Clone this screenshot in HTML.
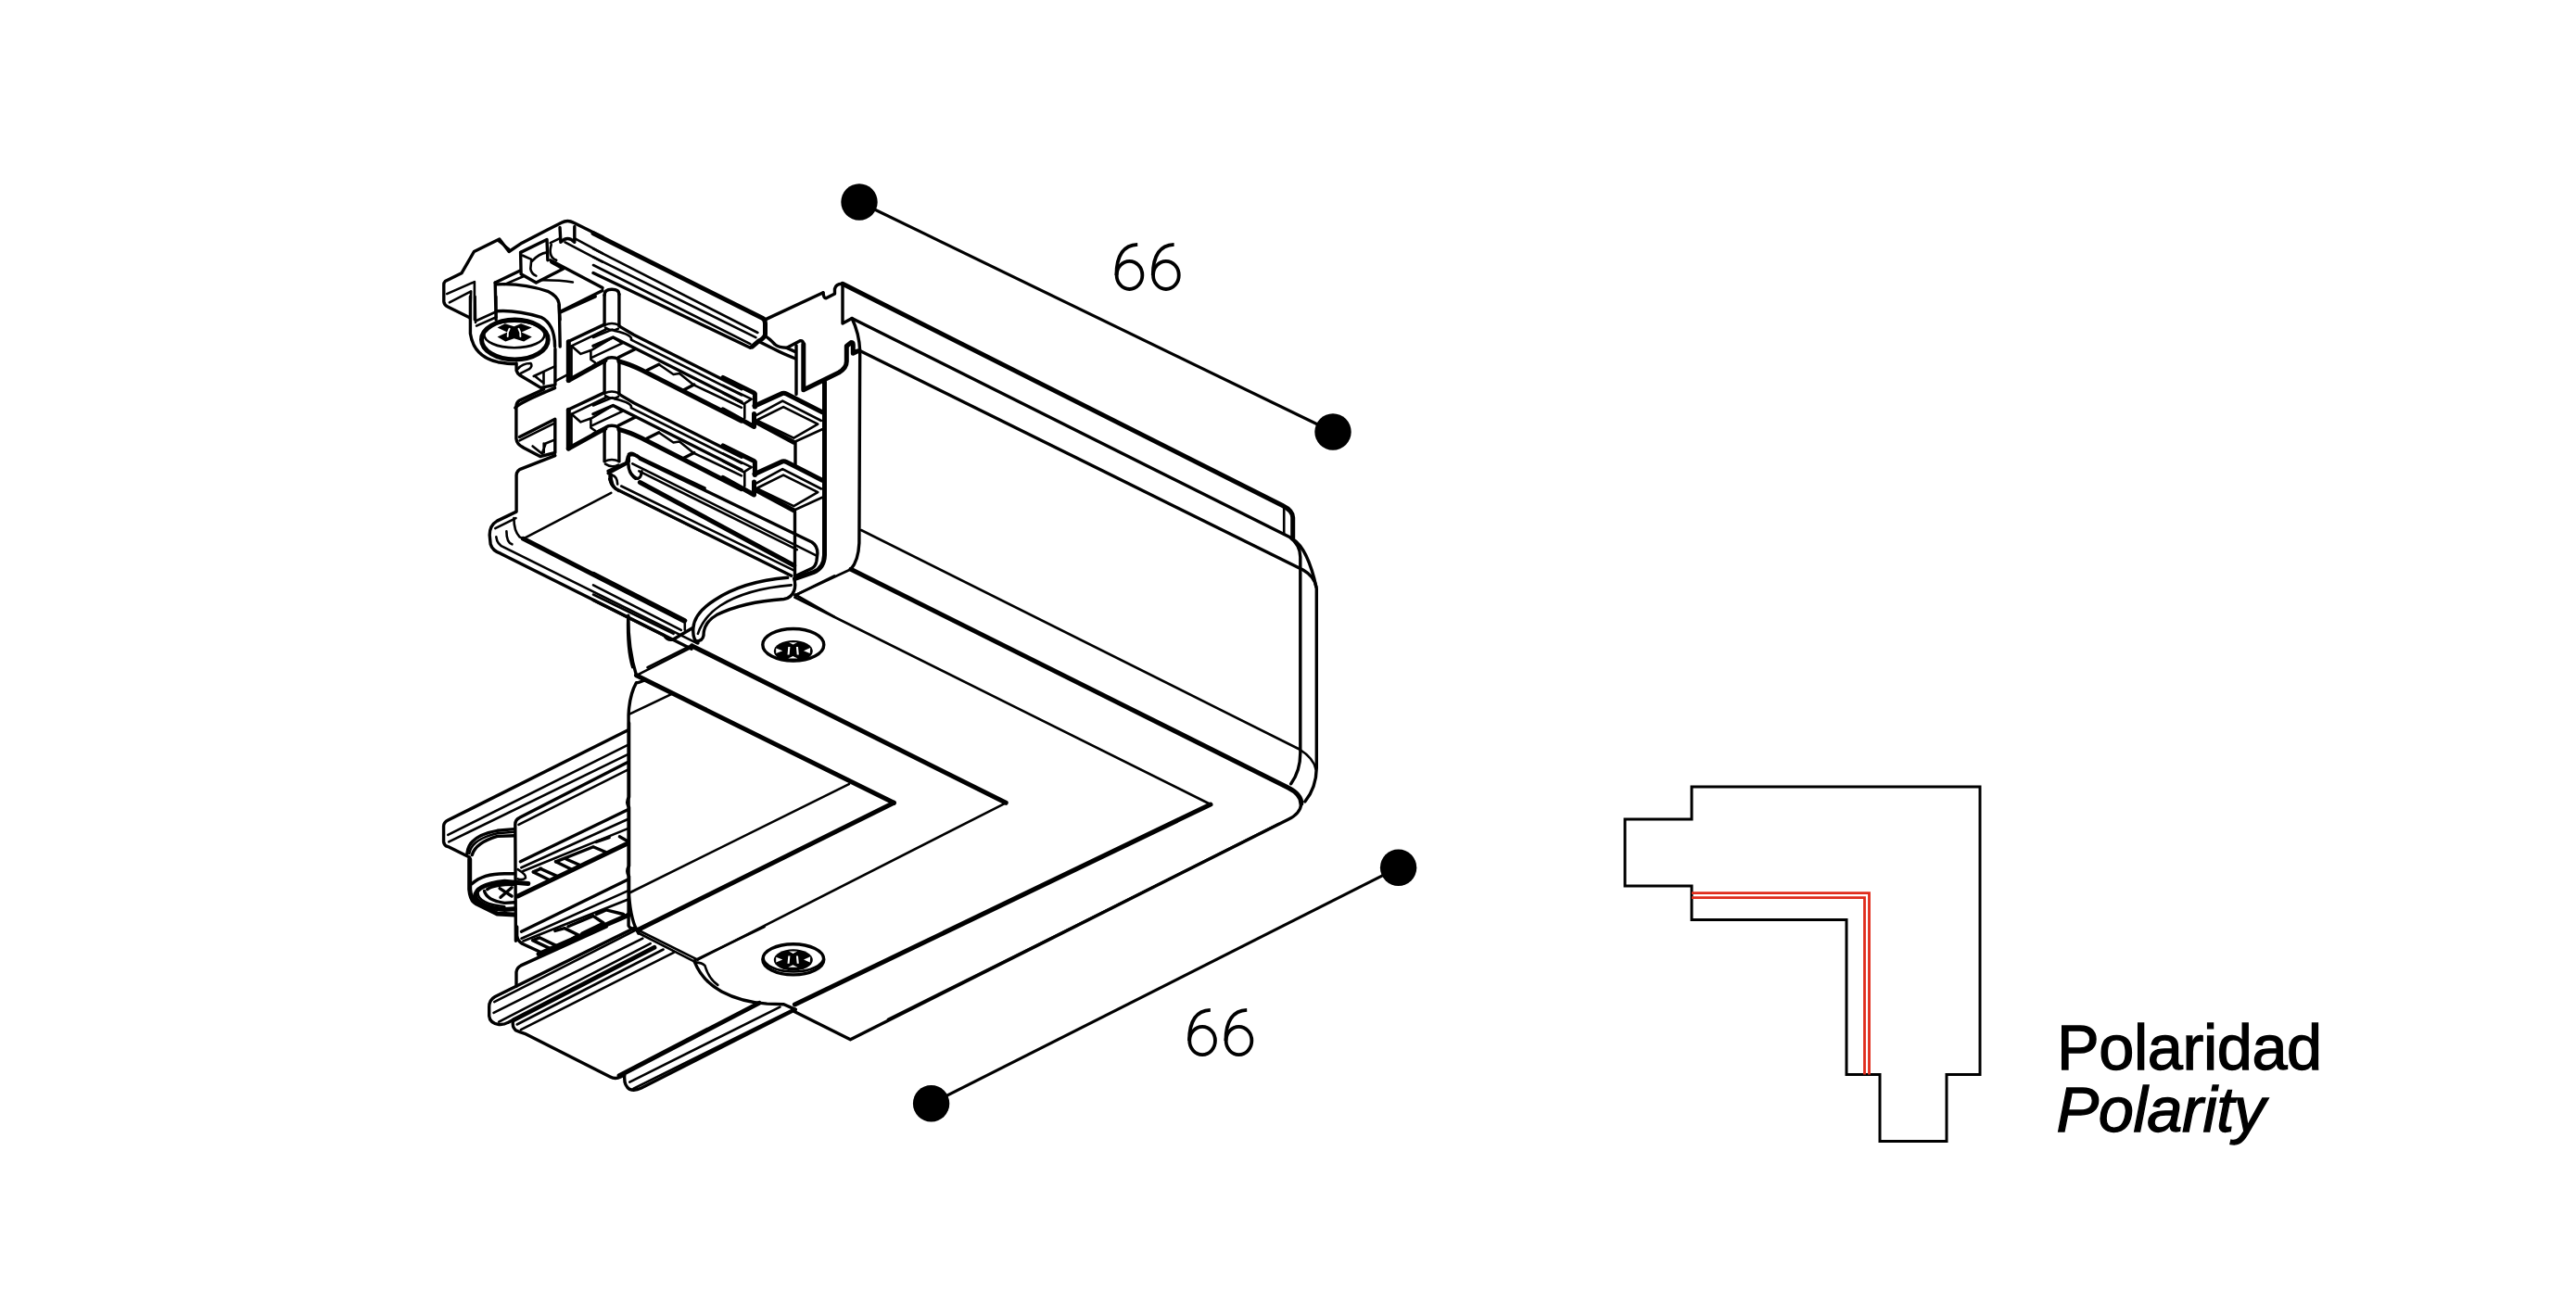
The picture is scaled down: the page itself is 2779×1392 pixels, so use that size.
<!DOCTYPE html>
<html><head><meta charset="utf-8"><style>
html,body{margin:0;padding:0;background:#fff;width:2779px;height:1392px;overflow:hidden}
svg{display:block}
</style></head><body>
<svg width="2779" height="1392" viewBox="0 0 2779 1392">
<defs>
<g id="six"><path d="M24.7 1.9 C10 2.5 1.9 13 1.9 35" fill="none" stroke="#000" stroke-width="3.8"/><ellipse cx="16.0" cy="35.0" rx="13.85" ry="15.1" fill="none" stroke="#000" stroke-width="3.8"/></g>
</defs>
<g id="dims" fill="#000" stroke="none">
<circle cx="927" cy="218" r="19.7"/>
<circle cx="1438" cy="466" r="19.7"/>
<circle cx="1508.6" cy="936.2" r="19.7"/>
<circle cx="1004.6" cy="1190.7" r="19.7"/>
<line x1="927" y1="218" x2="1438" y2="466" stroke="#000" stroke-width="3.1"/>
<line x1="1004.6" y1="1190.7" x2="1508.6" y2="936.2" stroke="#000" stroke-width="3.1"/>
</g>
<use href="#six" x="1202.5" y="261.9"/>
<use href="#six" x="1241.9" y="261.9"/>
<use href="#six" x="1281.1" y="1088"/>
<use href="#six" x="1320.5" y="1088"/>
<g id="polarity" fill="none" stroke="#000" stroke-width="3" stroke-linejoin="miter">
<path d="M1825 849 H2136 V1159.5 H2100 V1231.5 H2028 V1159.5 H1992 V992.6 H1825 V956 H1753 V884 H1825 Z"/>
<path d="M1825 963.7 H2016.5 V1159.5" stroke="#e02c1c" stroke-width="2.8"/>
<path d="M1825 968.6 H2011.5 V1159.5" stroke="#e02c1c" stroke-width="2.8"/>
</g>
<g id="ptext" font-family="Liberation Sans, sans-serif" font-size="68.5" fill="#000" stroke="#000" stroke-width="1.3" letter-spacing="-0.4">
<text x="2219" y="1154">Polaridad</text>
<text x="2218.5" y="1221" font-style="italic">Polarity</text>
</g>
<g id="body" fill="none" stroke="#000" stroke-linejoin="round" stroke-linecap="round">
<path d="M 909.0 306.3 L 1383.6 545.5 Q 1394.7 551.0 1394.7 558.6 L 1394.7 580.8" stroke-width="5.0"/>
<path d="M 1385.2 548.5 L 1385.2 576.8" stroke-width="2.6"/>
<path d="M 919.1 343.5 L 1391.7 579.8 Q 1402.8 588.0 1402.8 601.0 L 1402.8 812.6 Q 1402.8 832.0 1392.7 845.8" stroke-width="3.4"/>
<path d="M 1394.7 581.8 Q 1411.0 592.0 1420.3 635.0 L 1420.3 828.7 Q 1420.0 850.0 1407.8 865.0" stroke-width="3.4"/>
<path d="M 927.7 378.4 L 1405.8 615.0 Q 1418.0 622.0 1419.9 633.2" stroke-width="3.4"/>
<path d="M 929.0 572.0 L 1401.8 808.5 Q 1417.0 818.0 1419.5 830.0" stroke-width="2.6"/>
<path d="M 909.0 306.3 L 909.0 349.0 L 919.1 343.5 Q 927.0 360.0 927.7 378.4 L 926.9 586.0 Q 926.0 605.0 917.9 614.3" stroke-width="3.4"/>
<path d="M 909.0 306.3 Q 902.0 306.0 900.5 311.7 L 900.5 317.1 L 891.2 321.8 Q 888.5 322.0 888.1 316.0" stroke-width="3.4"/>
<path d="M 917.9 614.3 L 1389.7 849.9 Q 1403.8 857.0 1403.8 867.0" stroke-width="5.0"/>
<path d="M 1403.8 867.0 Q 1403.0 878.0 1389.7 884.2 L 917.4 1121.8 L 856.9 1091.5" stroke-width="3.4"/>
<path d="M 857.4 642.5 L 917.9 614.3" stroke-width="2.6"/>
<path d="M 857.4 644.5 L 1306.0 868.0 L 857.4 1084.0" stroke-width="2.6"/>
<path d="M 1306.0 868.0 L 857.4 1084.0" stroke-width="5.0"/>
<path d="M 746.5 696.9 L 1085.2 866.3" stroke-width="5.0"/>
<path d="M 1085.2 866.3 L 752.6 1035.6" stroke-width="2.6"/>
<path d="M 686.5 728.8 L 964.3 866.3" stroke-width="5.0"/>
<path d="M 964.3 866.3 L 688.0 1003.4" stroke-width="5.0"/>
<path d="M 686.5 728.8 L 747.9 697.7" stroke-width="2.6"/>
<path d="M 688.0 1003.4 L 752.6 1035.6" stroke-width="2.6"/>
<path d="M 680.0 963.0 L 915.9 846.1" stroke-width="2.6"/>
<path d="M 958.0 1100.0 L 1200.0 979.2 L 1379.6 889.0" stroke-width="2.6"/>
<path d="M 695.3 734.0 Q 688.0 737.0 686.5 736.7 Q 679.0 750.0 678.1 771.2 L 678.1 999.0 Q 679.0 1002.0 688.0 1003.4" stroke-width="3.4"/>
<path d="M 679.0 770.7 L 724.7 748.8" stroke-width="2.6"/>
<path d="M 677.8 664.2 Q 677.5 700.0 686.5 728.8" stroke-width="3.4"/>
<path d="M 677.7 787.8 L 483.3 885.1 Q 478.6 887.5 478.6 891.6 L 478.6 908.4 Q 479.2 912.5 483.3 913.6 L 506.5 925.1" stroke-width="3.4"/>
<path d="M 483.3 900.9 L 677.3 803.8" stroke-width="2.6"/>
<path d="M 484.2 908.4 L 676.7 814.4" stroke-width="2.6"/>
<path d="M 559.5 889.8 L 677.3 830.6" stroke-width="2.6"/>
<path d="M 676.7 822.8 L 560.5 882.3 Q 555.8 884.2 555.8 889.8 L 556.4 1015.3" stroke-width="3.4"/>
<path d="M 561.4 929.8 L 676.7 874.0" stroke-width="3.4"/>
<path d="M 562.3 936.3 L 676.7 884.2" stroke-width="2.6"/>
<path d="M 564.2 940.0 L 676.7 894.4" stroke-width="2.6"/>
<path d="M 558.6 967.0 L 676.7 910.2" stroke-width="5.0"/>
<path d="M 575.3 940.9 L 592.1 949.3 M 582.8 937.2 L 601.4 945.6 M 599.5 929.8 L 616.3 938.1 M 610.7 927.0 L 625.6 933.5 M 640.5 914.0 L 653.5 919.5 M 668.4 902.8 L 676.7 907.4" stroke-width="3.4"/>
<path d="M 575.3 940.9 L 583.7 937.2 M 599.5 929.8 L 639.5 914.0 M 643.3 908.4 L 657.2 903.7" stroke-width="3.4"/>
<path d="M 562.5 1005.3 L 677.1 949.3" stroke-width="3.4"/>
<path d="M 562.5 1012.7 L 677.1 961.4" stroke-width="2.6"/>
<path d="M 564.4 1015.5 L 677.1 970.7" stroke-width="2.6"/>
<path d="M 581.1 1029.5 L 678.0 987.4" stroke-width="5.0"/>
<path d="M 574.6 1014.6 L 582.0 1011.8 L 601.6 1021.1 L 594.1 1023.9 Z" stroke-width="3.4"/>
<path d="M 598.8 1004.4 L 609.0 1001.6 L 624.1 1009.0 L 617.6 1012.7" stroke-width="3.4"/>
<path d="M 612.9 999.7 L 639.9 988.4 L 651.1 996.0 L 627.8 1007.2" stroke-width="3.4"/>
<path d="M 643.6 986.5 L 653.9 981.9 L 672.5 986.5" stroke-width="3.4"/>
<path d="M 503.9 921.0 Q 505.6 901.7 536.5 896.3 L 555.1 894.6" stroke-width="3.4"/>
<path d="M 506.3 921.0 Q 508.6 905.6 536.5 899.3 L 555.1 897.8" stroke-width="2.6"/>
<path d="M 509.3 922.5 Q 513.2 909.3 536.5 902.4 L 555.1 901.7" stroke-width="3.4"/>
<path d="M 506.7 927.2 L 506.7 959.7 Q 507.8 971.4 513.2 974.4 L 536.5 986.1 L 555.1 986.9" stroke-width="5.0"/>
<path d="M 509.3 953.6 Q 521.0 942.8 544.3 942.8 L 555.1 942.8" stroke-width="3.4"/>
<path d="M 512.5 967.5 Q 513.2 954.3 544.3 951.2 L 569.8 953.6" stroke-width="5.0"/>
<path d="M 512.5 967.5 Q 517.1 979.1 544.3 981.5 L 555.1 980.7" stroke-width="5.0"/>
<path d="M 515.6 963.6 Q 515.6 975.3 544.3 978.3" stroke-width="2.6"/>
<path d="M 522.5 961.4 Q 524.9 971.4 544.3 974.4 L 555.1 973.7" stroke-width="3.4"/>
<path d="M 525.7 959.7 Q 532.6 954.3 555.1 954.3" stroke-width="3.4"/>
<path d="M 539.1 958.6 L 552.1 967.0 M 552.1 957.7 L 540.0 968.3" stroke-width="3.4"/>
<path d="M 558.6 938.1 Q 567.9 943.7 567.0 947.4 Q 564.2 950.2 558.6 948.4" stroke-width="2.6"/>
<path d="M 678.6 780.0 L 678.6 860.0 Q 674.9 865.6 678.6 871.2 L 678.6 934.4 Q 674.9 940.0 678.6 945.6 L 678.6 966.0 Q 680.5 994.0 688.8 1007.0" stroke-width="3.4"/>
<path d="M 557.7 1000.0 L 557.7 1009.8 Q 558.4 1015.4 563.3 1018.2 L 587.1 1029.3" stroke-width="3.4"/>
<path d="M 557.0 1064.3 L 557.0 1048.9 Q 557.7 1044.0 561.9 1041.9 L 654.2 1000.0" stroke-width="3.4"/>
<path d="M 685.6 1000.7 L 534.0 1075.5 Q 527.7 1079.0 527.7 1086.6 L 527.7 1096.4 Q 528.4 1104.1 538.2 1105.5 Q 543.8 1105.9 547.9 1103.4 L 553.5 1100.6" stroke-width="3.4"/>
<path d="M 533.3 1081.1 L 684.9 1004.2" stroke-width="2.6"/>
<path d="M 532.6 1092.9 L 693.3 1012.6" stroke-width="2.6"/>
<path d="M 538.2 1102.7 L 701.7 1018.2" stroke-width="2.6"/>
<path d="M 554.2 1100.6 L 705.9 1022.4" stroke-width="5.0"/>
<path d="M 557.7 1105.5 L 715.6 1024.5" stroke-width="2.6"/>
<path d="M 561.9 1111.1 L 726.8 1027.9" stroke-width="2.6"/>
<path d="M 553.5 1101.3 Q 552.1 1107.6 556.3 1111.8 Q 560.5 1113.9 566.1 1115.3 L 658.3 1162.1 Q 663.9 1164.9 669.5 1162.1 L 673.7 1160.0" stroke-width="3.4"/>
<path d="M 673.7 1160.7 Q 673.0 1171.9 679.3 1175.4 Q 684.9 1177.5 691.9 1174.0 L 858.2 1089.4" stroke-width="3.4"/>
<path d="M 668.1 1160.7 L 819.0 1082.4" stroke-width="5.0"/>
<path d="M 679.3 1167.7 L 841.4 1086.6" stroke-width="2.6"/>
<path d="M 683.5 1174.7 L 855.4 1089.4" stroke-width="2.6"/>
<path d="M 749.2 1037.7 Q 757.6 1058.7 778.5 1069.9 Q 799.5 1081.1 827.4 1083.1 L 845.6 1083.8 L 858.2 1089.4" stroke-width="3.4"/>
<path d="M 750.6 1038.4 Q 757.6 1039.1 760.4 1041.9 Q 764.6 1055.9 774.3 1062.9" stroke-width="2.6"/>
<path d="M 689.1 1007.0 L 749.2 1037.7" stroke-width="2.6"/>
<path d="M 749.2 1036.3 L 824.6 1000.0" stroke-width="2.6"/>
<path d="M 650.0 255.7 L 618.8 240.3 Q 612.3 236.6 605.8 240.3 L 590.0 248.3 L 563.0 262.2 L 549.1 271.5 L 538.8 258.0 L 511.4 271.5 L 497.9 294.8 L 480.2 303.6 Q 478.8 305.0 478.8 306.9 L 478.8 325.5 Q 479.3 329.2 483.0 331.0 L 507.2 343.1" stroke-width="3.4"/>
<path d="M 482.1 317.1 L 511.9 304.1 L 511.9 345.0" stroke-width="2.6"/>
<path d="M 484.9 326.4 L 508.1 314.3 L 507.2 345.0" stroke-width="2.6"/>
<path d="M 537.0 259.4 L 549.1 268.7" stroke-width="2.6"/>
<path d="M 561.6 272.4 L 590.0 258.5 L 590.9 280.8" stroke-width="3.4"/>
<path d="M 561.6 272.4 L 562.1 295.7 L 578.4 305.0 L 607.7 290.1 L 594.7 282.7" stroke-width="3.4"/>
<path d="M 564.0 275.7 L 573.3 279.9 L 572.3 290.1 Q 573.3 295.7 578.4 297.6" stroke-width="2.6"/>
<path d="M 574.2 281.7 Q 581.6 273.4 590.0 272.4" stroke-width="2.6"/>
<path d="M 534.2 305.0 L 535.1 345.0" stroke-width="3.4"/>
<path d="M 535.1 306.9 Q 563.0 305.0 590.9 314.3 Q 602.1 319.9 603.0 327.3 L 604.0 345.0" stroke-width="3.4"/>
<path d="M 534.2 305.0 L 561.2 292.0" stroke-width="3.4"/>
<path d="M 544.4 306.9 L 564.0 298.5" stroke-width="2.6"/>
<path d="M 604.0 336.6 L 650.0 313.4" stroke-width="3.4"/>
<path d="M 585.3 302.2 Q 604.9 302.2 617.9 304.5" stroke-width="2.6"/>
<path d="M 604.0 245.5 L 604.9 261.3 Q 612.3 253.8 619.8 261.3 L 619.8 244.5" stroke-width="3.4"/>
<path d="M 593.7 262.2 L 603.0 257.6" stroke-width="2.6"/>
<path d="M 620.7 257.6 L 650.0 273.4" stroke-width="2.6"/>
<path d="M 609.5 261.3 L 650.0 282.7" stroke-width="2.6"/>
<path d="M 593.7 280.8 L 650.0 310.6" stroke-width="3.4"/>
<path d="M 594.7 264.1 Q 590.9 277.1 600.2 280.8" stroke-width="2.6"/>
<path d="M 507.4 320.0 L 507.4 360.0 Q 511.2 385.1 537.2 390.7 Q 548.4 392.6 555.8 392.6" stroke-width="3.4"/>
<path d="M 519.5 366.5 A 35.81 21.40 0 1 0 591.2 366.5 A 35.81 21.40 0 1 0 519.5 366.5" stroke-width="5.0"/>
<path d="M 522.3 360.9 A 32.56 13.95 0 1 0 587.4 360.9 A 32.56 13.95 0 1 0 522.3 360.9" stroke-width="2.6"/>
<path d="M 535.3 335.8 Q 555.8 334.0 583.7 342.3 Q 598.6 349.8 598.6 374.0" stroke-width="3.4"/>
<path d="M 603.3 329.3 L 604.2 374.0" stroke-width="3.4"/>
<path d="M 512.6 320.0 L 513.0 347.9" stroke-width="2.6"/>
<path d="M 514.0 346.0 L 534.4 336.7" stroke-width="2.6"/>
<path d="M 514.0 351.6 L 535.3 342.3" stroke-width="2.6"/>
<path d="M 535.3 320.0 L 535.3 342.3" stroke-width="2.6"/>
<path d="M 605.1 336.7 L 642.3 320.0" stroke-width="3.4"/>
<path d="M 599.5 411.2 L 611.6 404.7" stroke-width="2.6"/>
<path d="M 555.8 440.0 Q 560.5 434.4 598.6 418.6" stroke-width="3.4"/>
<path d="M 536.6 353.6 L 544.7 349.2 L 554.6 352.3 L 562.0 349.2 L 573.8 353.6 L 562.6 358.5 L 573.8 363.5 L 565.1 368.5 L 554.6 365.3 L 545.3 368.5 L 536.6 363.5 L 547.2 358.5 Z" fill="#000" stroke="none"/>
<path d="M 549.6 354.8 Q 547.2 358.5 547.7 362.9 M 559.5 354.8 Q 562.0 358.5 561.4 362.9" stroke="#fff" stroke-width="2"/>
<path d="M 640.0 251.8 L 822.5 343.3 Q 825.5 344.9 825.5 349.0 L 825.5 361.0 Q 824.5 365.1 818.4 368.1 L 811.4 374.2" stroke-width="5.0"/>
<path d="M 640.0 268.3 L 817.4 359.0" stroke-width="2.6"/>
<path d="M 640.0 277.4 L 815.4 364.1" stroke-width="2.6"/>
<path d="M 640.0 286.0 L 809.4 371.1" stroke-width="2.6"/>
<path d="M 640.0 294.5 L 809.4 375.2" stroke-width="3.4"/>
<path d="M 825.5 344.9 L 888.0 315.7" stroke-width="3.4"/>
<path d="M 680.3 490.2 Q 688.4 490.2 690.4 495.3 L 875.9 585.0 Q 881.9 589.0 881.9 597.1 L 880.9 605.2 Q 879.9 611.2 875.9 613.2 L 858.8 621.3" stroke-width="3.4"/>
<path d="M 682.3 500.3 L 879.9 599.1" stroke-width="2.6"/>
<path d="M 689.4 508.4 L 859.8 593.1" stroke-width="2.6"/>
<path d="M 690.4 520.5 L 856.7 610.2" stroke-width="5.0"/>
<path d="M 670.2 524.5 L 855.7 615.2" stroke-width="2.6"/>
<path d="M 658.1 512.4 Q 657.1 522.5 664.2 527.5 L 853.7 621.3" stroke-width="3.4"/>
<path d="M 656.1 508.4 L 678.3 498.3 L 678.3 490.2 Q 680.3 488.2 684.4 490.2" stroke-width="3.4"/>
<path d="M 660.2 512.4 Q 666.2 514.4 666.2 522.5" stroke-width="2.6"/>
<path d="M 678.3 500.3 Q 678.3 512.4 688.4 516.5 Q 692.4 514.4 692.4 508.4" stroke-width="2.6"/>
<path d="M 856.7 624.3 Q 858.8 631.4 856.7 637.4 Q 853.7 645.5 845.6 646.5 Q 801.3 649.5 773.1 663.6 Q 759.0 671.7 759.0 685.8 Q 757.9 691.9 750.9 691.9" stroke-width="3.4"/>
<path d="M 849.7 623.3 Q 801.3 627.3 771.0 647.5 Q 748.9 661.6 747.9 677.7 Q 746.9 689.8 752.9 693.9" stroke-width="3.4"/>
<path d="M 853.7 631.4 Q 805.3 635.4 777.1 653.5 Q 759.0 665.6 752.9 683.8" stroke-width="2.6"/>
<path d="M 857.7 642.5 L 900.1 621.3" stroke-width="2.6"/>
<path d="M 746.9 695.9 L 698.5 720.1" stroke-width="2.6"/>
<path d="M 857.7 641.5 L 900.1 665.6" stroke-width="2.6"/>
<path d="M 640.0 619.3 L 738.8 669.7" stroke-width="5.0"/>
<path d="M 640.0 631.4 L 734.8 679.8" stroke-width="2.6"/>
<path d="M 640.0 641.5 L 726.7 683.8" stroke-width="2.6"/>
<path d="M 640.0 647.5 L 716.6 685.8 Q 720.6 691.9 726.7 689.8 L 746.9 677.7" stroke-width="3.4"/>
<path d="M 677.3 665.6 Q 676.3 701.9 682.3 720.1" stroke-width="2.6"/>
<path d="M 738.8 669.7 L 738.8 679.8" stroke-width="2.6"/>
<path d="M 586.7 420.0 L 560.5 432.1 Q 556.9 434.1 556.9 439.2 L 556.9 473.4 Q 557.5 479.5 564.5 482.9 L 582.7 492.6 L 598.8 488.5 L 598.8 452.3 L 560.5 471.4" stroke-width="3.4"/>
<path d="M 560.5 475.4 L 598.8 456.3" stroke-width="2.6"/>
<path d="M 574.6 481.5 L 584.7 489.6 L 588.7 478.5 L 598.8 474.4 M 586.7 478.5 L 586.7 488.5" stroke-width="2.6"/>
<path d="M 656.2 510.7 L 675.4 500.6 L 677.4 492.6 Q 681.5 488.5 687.5 492.6 L 760.1 526.9" stroke-width="3.4"/>
<path d="M 657.3 516.8 Q 659.3 524.8 667.3 528.9 L 760.1 575.2" stroke-width="2.6"/>
<path d="M 677.4 500.6 Q 677.4 510.7 685.5 516.8 Q 691.5 516.8 691.5 510.7" stroke-width="2.6"/>
<path d="M 598.8 491.6 L 560.5 506.7 Q 557.1 508.7 557.1 512.7 L 557.1 552.1 L 536.3 562.1 Q 528.2 566.8 528.2 577.3 L 529.2 587.3 Q 531.2 594.4 540.3 597.4 L 746.0 700.2" stroke-width="3.4"/>
<path d="M 534.3 570.2 L 556.5 559.1" stroke-width="2.6"/>
<path d="M 554.4 559.1 Q 554.4 573.2 560.5 579.3 L 564.5 581.3 L 659.3 531.9" stroke-width="2.6"/>
<path d="M 564.5 581.3 L 737.9 670.0" stroke-width="5.0"/>
<path d="M 535.3 579.3 Q 536.3 587.3 543.3 590.4 L 752.0 694.2" stroke-width="2.6"/>
<path d="M 546.4 573.2 Q 546.4 585.3 552.4 587.3" stroke-width="2.6"/>
<path d="M 659.3 511.7 Q 659.3 524.8 667.3 529.9" stroke-width="2.6"/>
<path d="M 652.1 391.9 Q 652.1 385.8 660.0 385.8 Q 667.9 385.8 667.9 390.9" stroke-width="3.4"/>
<path d="M 652.1 391.9 L 652.1 424.4" stroke-width="3.4"/>
<path d="M 667.9 390.9 L 667.9 424.4" stroke-width="3.4"/>
<path d="M 652.1 424.4 Q 660.0 420.7 667.9 424.4" stroke-width="2.6"/>
<path d="M 653.0 427.2 Q 660.0 431.9 667.0 428.1" stroke-width="2.6"/>
<path d="M 667.9 351.9 L 683.7 361.2 L 800.0 419.8" stroke-width="3.4"/>
<path d="M 640.0 364.0 L 660.5 355.6 L 663.3 357.0 Q 682.8 361.2 680.9 366.7 L 800.0 426.3" stroke-width="2.6"/>
<path d="M 640.0 373.3 L 661.4 364.0 L 673.5 370.0 L 800.0 433.7" stroke-width="3.4"/>
<path d="M 640.0 394.7 L 651.6 389.1" stroke-width="3.4"/>
<path d="M 667.0 385.8 L 685.6 376.5" stroke-width="3.4"/>
<path d="M 667.9 390.0 Q 679.1 392.8 692.1 399.3 L 800.0 454.2" stroke-width="5.0"/>
<path d="M 697.7 399.8 L 710.7 393.3" stroke-width="3.4"/>
<path d="M 737.7 420.7 L 748.8 415.1" stroke-width="3.4"/>
<path d="M 711.6 393.7 L 726.5 404.0 L 733.0 403.0 L 747.9 415.1" stroke-width="2.6"/>
<path d="M 747.9 415.1 L 800.0 439.8" stroke-width="2.6"/>
<path d="M 652.1 350.1 L 612.6 368.7" stroke-width="3.4"/>
<path d="M 613.3 368.7 L 613.3 410.6" stroke-width="5.0"/>
<path d="M 613.3 410.6 L 652.8 388.9" stroke-width="5.0"/>
<path d="M 653.7 355.5 L 616.5 373.3 L 626.5 381.9 L 637.4 378.0 L 637.4 388.0 L 642.0 391.2" stroke-width="2.6"/>
<path d="M 638.9 377.3 L 661.4 364.0 L 671.4 370.3 L 638.9 385.7" stroke-width="2.6"/>
<path d="M 616.5 373.3 L 616.5 407.7" stroke-width="2.6"/>
<path d="M 652.1 465.4 Q 652.1 459.3 660.0 459.3 Q 667.9 459.3 667.9 464.4" stroke-width="3.4"/>
<path d="M 652.1 465.4 L 652.1 497.9" stroke-width="3.4"/>
<path d="M 667.9 464.4 L 667.9 497.9" stroke-width="3.4"/>
<path d="M 652.1 497.9 Q 660.0 494.2 667.9 497.9" stroke-width="2.6"/>
<path d="M 653.0 500.7 Q 660.0 505.4 667.0 501.6" stroke-width="2.6"/>
<path d="M 667.9 425.4 L 683.7 434.7 L 800.0 493.3" stroke-width="3.4"/>
<path d="M 640.0 437.5 L 660.5 429.1 L 663.3 430.5 Q 682.8 434.7 680.9 440.2 L 800.0 499.8" stroke-width="2.6"/>
<path d="M 640.0 446.8 L 661.4 437.5 L 673.5 443.5 L 800.0 507.2" stroke-width="3.4"/>
<path d="M 640.0 468.2 L 651.6 462.6" stroke-width="3.4"/>
<path d="M 667.0 459.3 L 685.6 450.0" stroke-width="3.4"/>
<path d="M 667.9 463.5 Q 679.1 466.3 692.1 472.8 L 800.0 527.7" stroke-width="5.0"/>
<path d="M 697.7 473.3 L 710.7 466.8" stroke-width="3.4"/>
<path d="M 737.7 494.2 L 748.8 488.6" stroke-width="3.4"/>
<path d="M 711.6 467.2 L 726.5 477.5 L 733.0 476.5 L 747.9 488.6" stroke-width="2.6"/>
<path d="M 747.9 488.6 L 800.0 513.3" stroke-width="2.6"/>
<path d="M 652.1 423.6 L 612.6 442.2" stroke-width="3.4"/>
<path d="M 613.3 442.2 L 613.3 484.1" stroke-width="5.0"/>
<path d="M 613.3 484.1 L 652.8 462.4" stroke-width="5.0"/>
<path d="M 653.7 429.0 L 616.5 446.8 L 626.5 455.4 L 637.4 451.5 L 637.4 461.5 L 642.0 464.7" stroke-width="2.6"/>
<path d="M 638.9 450.8 L 661.4 437.5 L 671.4 443.8 L 638.9 459.2" stroke-width="2.6"/>
<path d="M 616.5 446.8 L 616.5 481.2" stroke-width="2.6"/>
<path d="M 780.0 407.4 L 813.5 424.0 L 814.4 424.9 L 814.4 439.1" stroke-width="5.0"/>
<path d="M 780.0 415.8 L 810.7 430.7 L 803.3 435.3 L 803.3 451.2" stroke-width="2.6"/>
<path d="M 780.0 424.2 L 802.3 435.8" stroke-width="2.6"/>
<path d="M 780.0 441.9 L 813.5 460.5 L 813.5 446.5" stroke-width="5.0"/>
<path d="M 814.0 438.1 L 844.2 424.4 Q 846.0 423.7 848.4 424.9 L 887.0 444.7" stroke-width="5.0"/>
<path d="M 815.3 448.4 L 844.2 432.6 L 886.0 454.0" stroke-width="2.6"/>
<path d="M 814.4 454.9 L 856.3 477.2" stroke-width="5.0"/>
<path d="M 817.2 453.0 L 845.1 439.1 L 882.3 457.7 L 856.3 472.6 L 817.2 454.0" stroke-width="2.6"/>
<path d="M 856.3 477.2 L 887.0 463.3" stroke-width="2.6"/>
<path d="M 780.0 480.9 L 813.5 497.5 L 814.4 498.4 L 814.4 512.6" stroke-width="5.0"/>
<path d="M 780.0 489.3 L 810.7 504.2 L 803.3 508.8 L 803.3 524.7" stroke-width="2.6"/>
<path d="M 780.0 497.7 L 802.3 509.3" stroke-width="2.6"/>
<path d="M 780.0 515.4 L 813.5 534.0 L 813.5 520.0" stroke-width="5.0"/>
<path d="M 814.0 511.6 L 844.2 497.9 Q 846.0 497.2 848.4 498.4 L 887.0 518.2" stroke-width="5.0"/>
<path d="M 815.3 521.9 L 844.2 506.1 L 886.0 527.5" stroke-width="2.6"/>
<path d="M 814.4 528.4 L 856.3 550.7" stroke-width="5.0"/>
<path d="M 817.2 526.5 L 845.1 512.6 L 882.3 531.2 L 856.3 546.1 L 817.2 527.5" stroke-width="2.6"/>
<path d="M 856.3 550.7 L 887.0 536.8" stroke-width="2.6"/>
<path d="M 652.1 318.4 Q 652.1 312.3 660.0 312.3 Q 667.9 312.3 667.9 317.4" stroke-width="3.4"/>
<path d="M 652.1 318.4 L 652.1 350.9" stroke-width="3.4"/>
<path d="M 667.9 317.4 L 667.9 350.9" stroke-width="3.4"/>
<path d="M 652.1 350.9 Q 660.0 347.2 667.9 350.9" stroke-width="2.6"/>
<path d="M 653.0 353.7 Q 660.0 358.4 667.0 354.6" stroke-width="2.6"/>
<path d="M 859.0 372.7 L 859.0 425.4 M 858.0 477.0 L 858.0 501.3 M 857.5 551.7 L 857.5 623.0" stroke-width="3.4"/>
<path d="M 889.5 412.0 L 889.5 599.0 Q 889.0 613.0 877.9 617.3 L 857.8 624.3" stroke-width="5.0"/>
<path d="M 866.8 371.5 L 866.8 420.8 L 905.0 402.0 Q 913.3 397.0 913.3 390.0 L 913.3 373.5 L 918.0 369.6 Q 920.3 369.6 920.3 372.0 L 920.3 381.2 L 925.0 378.9" stroke-width="5.0"/>
<path d="M 824.7 362.2 Q 830.0 365.0 835.8 371.5 Q 840.0 375.0 848.2 375.2 L 858.2 379.6" stroke-width="3.4"/>
<path d="M 819.7 369.0 L 835.8 377.1 Q 845.0 382.0 858.2 387.0" stroke-width="3.4"/>
<path d="M 848.9 375.2 L 863.1 367.8 Q 866.8 367.2 866.8 371.5" stroke-width="3.4"/>
<path d="M 822.8 695.8 A 33.00 17.30 0 1 0 888.8 695.8 A 33.00 17.30 0 1 0 822.8 695.8" stroke-width="3.4"/>
<path d="M 834.8 702.6 A 21.00 11.60 0 1 0 876.8 702.6 A 21.00 11.60 0 1 0 834.8 702.6 Z" fill="#000" stroke="none"/>
<path d="M 837.2 699.4 L 844.3 702.2 L 837.2 705.1 Z M 874.2 699.0 L 867.0 702.2 L 873.8 705.1 Z M 851.1 693.2 L 860.1 693.2 L 855.6 695.6 Z M 850.3 710.5 L 860.5 710.5 L 855.4 708.0 Z M 850.3 698.1 L 852.4 698.1 L 851.6 706.4 L 849.5 706.4 Z M 858.9 698.1 L 861.0 698.1 L 861.8 706.4 L 859.7 706.4 Z" fill="#fff" stroke="none"/>
<path d="M 822.8 1035.3 A 33.00 16.60 0 1 0 888.8 1035.3 A 33.00 16.60 0 1 0 822.8 1035.3" stroke-width="3.4"/>
<path d="M 834.8 1035.9 A 21.00 11.60 0 1 0 876.8 1035.9 A 21.00 11.60 0 1 0 834.8 1035.9 Z" fill="#000" stroke="none"/>
<path d="M 837.2 1032.7 L 844.3 1035.5 L 837.2 1038.4 Z M 874.2 1032.3 L 867.0 1035.5 L 873.8 1038.4 Z M 851.1 1026.5 L 860.1 1026.5 L 855.6 1028.9 Z M 850.3 1043.8 L 860.5 1043.8 L 855.4 1041.3 Z M 850.3 1031.4 L 852.4 1031.4 L 851.6 1039.7 L 849.5 1039.7 Z M 858.9 1031.4 L 861.0 1031.4 L 861.8 1039.7 L 859.7 1039.7 Z" fill="#fff" stroke="none"/>
<path d="M 823.5 1033.0 A 32.50 15.50 0 0 0 888.5 1033.0" stroke-width="2.6"/>
<path d="M 557.1 392.0 L 557.1 399.8 Q 558.0 403.0 561.0 405.0 L 583.4 418.4 L 598.9 415.3 L 598.9 376.5" stroke-width="3.4"/>
<path d="M 575.7 406.0 L 598.9 395.1" stroke-width="2.6"/>
<path d="M 577.2 406.0 L 585.0 412.2 M 586.5 401.3 L 586.5 414.5" stroke-width="2.6"/>
<path d="M 558.6 398.2 Q 563.3 392.0 572.6 392.0 Q 575.0 395.0 571.0 398.2 L 561.7 402.9" stroke-width="2.6"/>
</g>
</svg>
</body></html>
